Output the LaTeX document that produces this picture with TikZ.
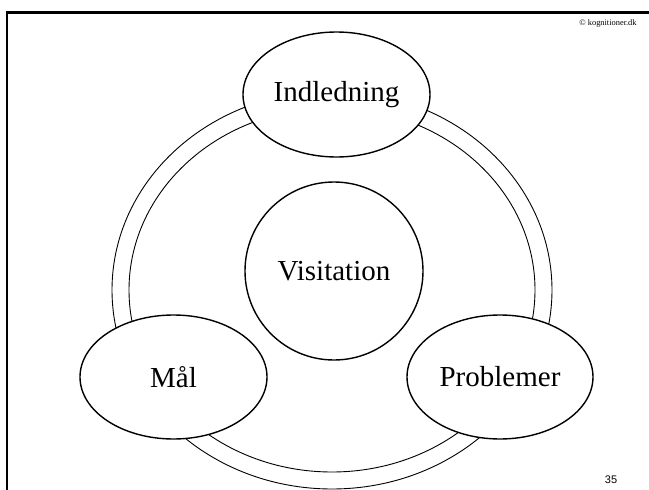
\documentclass[tikz,border=0pt]{standalone}
\usepackage{fontspec}
\setmainfont{Liberation Serif}
\newfontfamily\numfont{Liberation Sans}
\usetikzlibrary{shapes.geometric}
\tikzset{
  ringline/.style={line width=0.9pt},
  bubble/.style={ellipse, draw, line width=1.4pt, fill=white, inner sep=0pt,
    font=\fontsize{29}{34}\selectfont},
  framerule/.style={line width=2.2pt, line cap=rect, line join=miter}
}
\begin{document}
\begin{tikzpicture}[x=1pt,y=-1pt]
\useasboundingbox (0,0) rectangle (649,490);
% frame
\draw[framerule] (7,492) -- (7,12.5) -- (651,12.5);
% ring
\draw[ringline] (332,290) ellipse [x radius=220, y radius=199];
\draw[ringline] (332,290) ellipse [x radius=203, y radius=182];
% bubbles
\node[bubble, minimum width=187pt, minimum height=125pt] (ind) at (336.5,94.5) {Indledning};
\node[bubble, minimum width=187pt, minimum height=124pt] (mal) at (173.5,377) {Mål};
\node[bubble, minimum width=186pt, minimum height=124pt] (prob) at (500,377) {Problemer};
\node[bubble, circle, minimum size=178pt] (vis) at (334,271) {Visitation};
% labels
\node[font=\fontsize{8.4}{10}\selectfont, inner sep=0pt] (copy) at (608,23) {© kognitioner.dk};
\node[font=\numfont\fontsize{11}{13}\selectfont, inner sep=0pt] (num) at (611,480) {35};
\end{tikzpicture}
\end{document}
